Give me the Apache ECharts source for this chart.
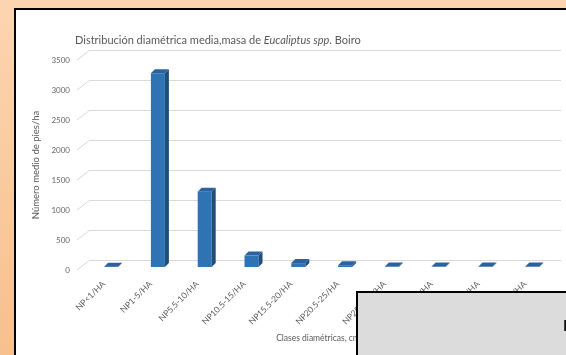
<!DOCTYPE html>
<html>
<head>
<meta charset="utf-8">
<script src="https://cdn.jsdelivr.net/npm/echarts@6/dist/echarts.min.js"></script>
<style>
  html, body { margin: 0; padding: 0; }
  #chart { width: 566px; height: 355px; }
</style>
</head>
<body>
<div id="chart"></div>
<script>
// Diameter classes and mean number of trees per hectare
const categories = ["NP<1/HA", "NP1-5/HA", "NP5.5-10/HA", "NP10.5-15/HA", "NP15.5-20/HA",
                    "NP20.5-25/HA", "NP25.5-30/HA", "NP30.5-35/HA", "NP35.5-40/HA", "NP>40/HA"];
const piesHa = [5, 3230, 1255, 190, 65, 30, 8, 8, 8, 8];
const yTicks = [0, 500, 1000, 1500, 2000, 2500, 3000, 3500];

const FONT = 'Lato';
const GREY = '#595959';

// pseudo-3D column geometry
const FACE_W = 14, DEPTH_X = 4, DEPTH_Y = 4, SHIFT_X = 3.7, SHIFT_Y = 3;
// back-wall offset relative to the front plane
const WALL_DX = 13, WALL_DY = 10;

const chart = echarts.init(document.getElementById('chart'));

chart.setOption({
  animation: false,
  backgroundColor: {
    type: 'linear', x: 0, y: 0, x2: 0, y2: 1,
    colorStops: [{ offset: 0, color: '#fcd5b0' }, { offset: 1, color: '#f7c08f' }]
  },
  title: {
    left: 70, top: 30,
    text: '{n|Distribución diamétrica media,masa de }{i|Eucaliptus spp}{n|. Boiro}',
    textStyle: {
      fontWeight: 'normal',
      rich: {
        n: { fontFamily: FONT, fontSize: 11, fontWeight: 'normal', color: GREY },
        i: { fontFamily: FONT, fontSize: 11, fontWeight: 'normal', color: GREY, fontStyle: 'italic' }
      }
    }
  },
  graphic: [
    { type: 'rect', z: -10, shape: { x: 15, y: 9, width: 600, height: 400 },
      style: { fill: '#ffffff', stroke: '#000000', lineWidth: 2 } },
    { type: 'rect', z: 100, shape: { x: 357, y: 292, width: 260, height: 120 },
      style: { fill: '#dcdcdc', stroke: '#000000', lineWidth: 2 } },
    { type: 'text', z: 101, x: 563, y: 326,
      style: { text: 'H', fontFamily: FONT, fontWeight: 'bold', fontSize: 15, fill: '#111', verticalAlign: 'middle' } }
  ],
  grid: [
    { left: 84, top: 60, width: 468, height: 210 },
    { left: 90, top: 50, right: 5, height: 210 }
  ],
  xAxis: [
    {
      gridIndex: 0, type: 'category', data: categories,
      axisLine: { show: false }, axisTick: { show: false },
      axisLabel: { rotate: 45, interval: 0, margin: 9, padding: [0, 5, 0, 0],
                   fontFamily: FONT, fontSize: 8.5, color: GREY },
      name: 'Clases diamétricas, cm', nameLocation: 'middle', nameGap: 63,
      nameTextStyle: { fontFamily: FONT, fontSize: 8.5, color: GREY }
    },
    { gridIndex: 1, type: 'value', min: 0, max: 1, show: false }
  ],
  yAxis: [
    {
      gridIndex: 0, type: 'value', min: 0, max: 3500, interval: 500,
      axisLine: { show: false }, axisTick: { show: false }, splitLine: { show: false },
      axisLabel: { margin: 14, fontFamily: FONT, fontSize: 8, color: '#666',
                   formatter: v => String(v) },
      name: 'Número medio de pies/ha', nameLocation: 'middle', nameRotate: 90, nameGap: 39,
      nameTextStyle: { fontFamily: FONT, fontSize: 9.5, color: GREY }
    },
    {
      gridIndex: 1, type: 'value', min: 0, max: 3500, interval: 500,
      axisLine: { show: false }, axisTick: { show: false }, axisLabel: { show: false },
      splitLine: { lineStyle: { color: '#d9d9d9', width: 1 } }
    }
  ],
  series: [
    {
      // side-wall segments joining the back gridlines to the value labels
      type: 'custom', xAxisIndex: 1, yAxisIndex: 1, clip: false, silent: true,
      data: yTicks.map(v => [0, v]),
      renderItem: function (params, api) {
        const p = api.coord([api.value(0), api.value(1)]);
        return {
          type: 'line',
          shape: { x1: p[0], y1: p[1], x2: p[0] - WALL_DX, y2: p[1] + WALL_DY },
          style: { stroke: '#d9d9d9', lineWidth: 1 }
        };
      }
    },
    {
      // columns drawn with front, side and top faces
      type: 'custom', xAxisIndex: 0, yAxisIndex: 0, clip: false, z: 5,
      data: piesHa.map((v, i) => [i, v]),
      renderItem: function (params, api) {
        const top = api.coord([api.value(0), api.value(1)]);
        const base = api.coord([api.value(0), 0]);
        const cx = top[0] + SHIFT_X;
        const x0 = cx - FACE_W / 2, x1 = cx + FACE_W / 2;
        const yT = top[1] - SHIFT_Y, yB = base[1] - SHIFT_Y;
        return {
          type: 'group',
          children: [
            { type: 'rect', shape: { x: x0, y: yT, width: FACE_W, height: yB - yT },
              style: { fill: '#2e74b5' } },
            { type: 'polygon',
              shape: { points: [[x1, yT], [x1 + DEPTH_X, yT - DEPTH_Y], [x1 + DEPTH_X, yB - DEPTH_Y], [x1, yB]] },
              style: { fill: '#1f4e79' } },
            { type: 'polygon',
              shape: { points: [[x0, yT], [x1, yT], [x1 + DEPTH_X, yT - DEPTH_Y], [x0 + DEPTH_X, yT - DEPTH_Y]] },
              style: { fill: '#2a62a0' } }
          ]
        };
      }
    }
  ]
});
</script>
</body>
</html>
